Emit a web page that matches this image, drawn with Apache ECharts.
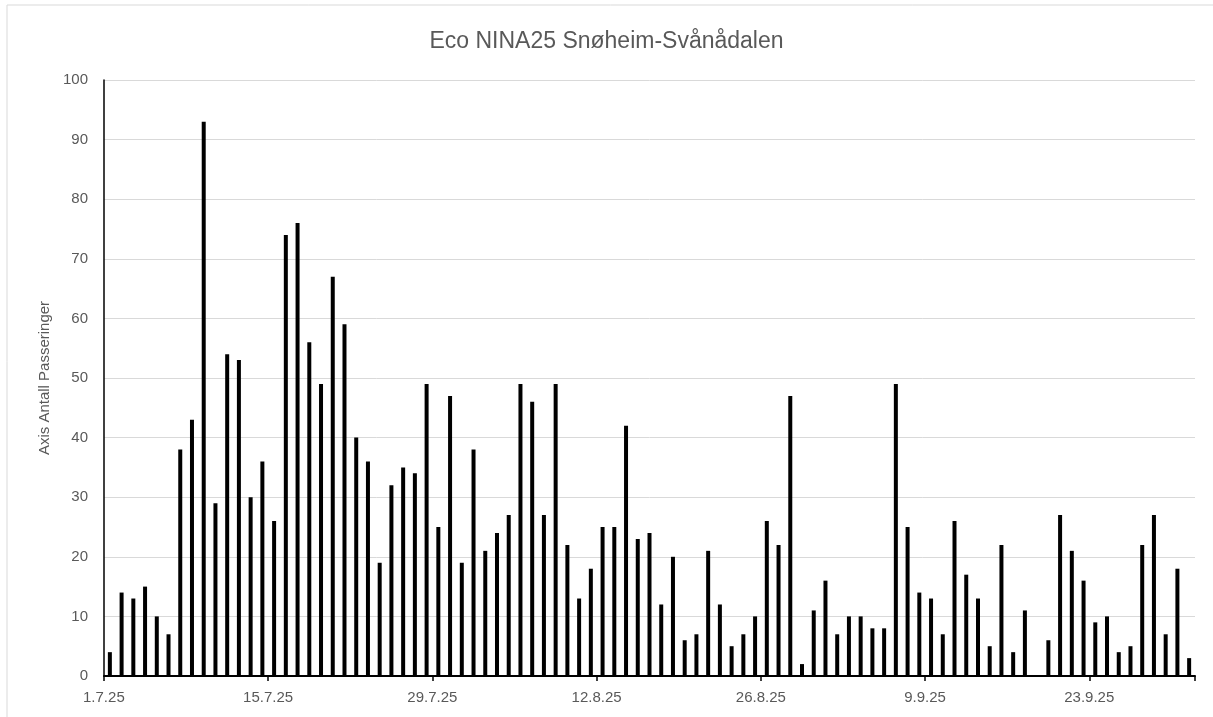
<!DOCTYPE html>
<html>
<head>
<meta charset="utf-8">
<script src="https://cdn.jsdelivr.net/npm/echarts@6/dist/echarts.min.js"></script>
<style>
  html, body { margin: 0; padding: 0; background: #fff; }
  #main { width: 1213px; height: 717px; }
</style>
</head>
<body>
<div id="main"></div>
<script>
// daily counts, 1.7.25 - 1.10.25
var july = [4, 14, 13, 15, 10, 7, 38, 43, 93, 29, 54, 53, 30, 36, 26, 74, 76, 56, 49, 67, 59, 40, 36, 19, 32, 35, 34, 49, 25, 47, 19];
var august = [38, 21, 24, 27, 49, 46, 27, 49, 22, 13, 18, 25, 25, 42, 23, 24, 12, 20, 6, 7, 21, 12, 5, 7, 10, 26, 22, 47, 2, 11, 16];
var september = [7, 10, 10, 8, 8, 49, 25, 14, 13, 7, 26, 17, 13, 5, 22, 4, 11, 0, 6, 27, 21, 16, 9, 10, 4, 5, 22, 27, 7, 18];
var october = [3];

var monthLengths = [[7, 31], [8, 31], [9, 30], [10, 1]];
var tickLabels = ['1.7.25', '15.7.25', '29.7.25', '12.8.25', '26.8.25', '9.9.25', '23.9.25'];

// build day labels like "1.7.25"
var days = [];
monthLengths.forEach(function (m) {
  for (var d = 1; d <= m[1]; d++) days.push(d + '.' + m[0] + '.25');
});
var counts = july.concat(august, september, october);

var chart = echarts.init(document.getElementById('main'));

var option = {
  backgroundColor: '#fff',
  textStyle: { fontFamily: 'Liberation Sans, Arial, sans-serif' },
  title: {
    text: 'Eco NINA25 Snøheim-Svånådalen',
    left: 'center',
    top: 25,
    textStyle: { fontSize: 23, fontWeight: 'normal', color: '#595959' }
  },
  graphic: [{
    type: 'rect',
    shape: { x: 7, y: 5, width: 1230, height: 730 },
    style: { fill: 'none', stroke: '#d9d9d9', lineWidth: 1 },
    silent: true
  }],
  grid: { left: 104, right: 18, top: 80, bottom: 41 },
  xAxis: {
    type: 'category',
    data: days,
    boundaryGap: true,
    axisLine: { lineStyle: { color: '#000', width: 2 } },
    axisTick: {
      show: true,
      length: 5,
      interval: function (i) { return i % 14 === 0; },
      lineStyle: { color: '#000', width: 1.5 }
    },
    axisLabel: {
      interval: function (i, v) { return tickLabels.indexOf(v) >= 0; },
      fontSize: 15,
      color: '#595959',
      margin: 14,
      padding: [0, 12, 0, 0]
    },
    splitLine: { show: false }
  },
  yAxis: {
    type: 'value',
    min: 0,
    max: 100,
    interval: 10,
    name: 'Axis Antall Passeringer',
    nameLocation: 'middle',
    nameGap: 52,
    nameTextStyle: { fontSize: 15, color: '#595959' },
    axisLine: { show: true, lineStyle: { color: '#000', width: 1.5 } },
    axisTick: { show: false },
    axisLabel: { fontSize: 15, color: '#595959', margin: 16 },
    splitLine: { lineStyle: { color: '#d9d9d9', width: 1 } }
  },
  series: [{
    type: 'bar',
    data: counts,
    barWidth: 4,
    itemStyle: { color: '#000' }
  }]
};

chart.setOption(option);
</script>
</body>
</html>
